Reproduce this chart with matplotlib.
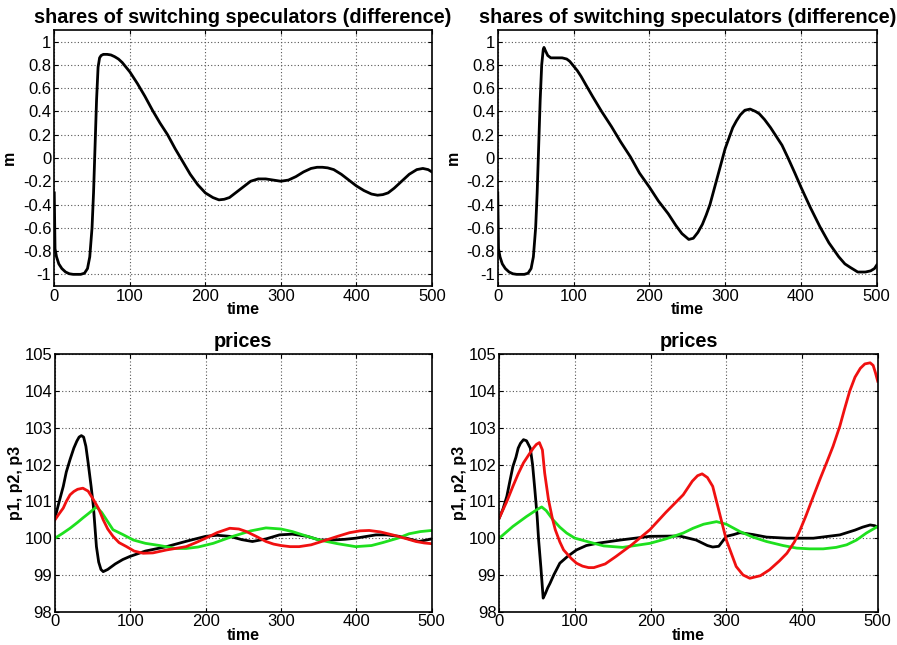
import matplotlib
matplotlib.use("Agg")
import matplotlib.pyplot as plt

plt.rcParams['font.family'] = ['Liberation Sans', 'DejaVu Sans']

# Data
## top left: m (difference of shares)
t_m1 = [0, 1, 3, 6, 10, 15, 20, 25, 30, 35, 40, 44, 47, 50, 52, 54, 56, 58, 60, 62, 65,
        70, 75, 80, 85, 90, 95, 100, 110, 120, 130, 140, 150, 160, 170, 180, 190, 200,
        210, 218, 225, 232, 240, 250, 260, 270, 280, 290, 300, 310, 320, 330, 340, 348,
        355, 362, 370, 380, 390, 400, 410, 420, 428, 435, 442, 450, 460, 470, 480, 488,
        495, 500]
m1 = [-0.30, -0.78, -0.85, -0.91, -0.95, -0.98, -0.995, -1.0, -1.0, -1.0, -0.99, -0.95,
      -0.85, -0.60, -0.30, 0.10, 0.50, 0.78, 0.86, 0.88, 0.89, 0.89, 0.885, 0.87, 0.85,
      0.82, 0.78, 0.74, 0.64, 0.53, 0.41, 0.30, 0.20, 0.08, -0.03, -0.14, -0.23, -0.30,
      -0.34, -0.36, -0.355, -0.34, -0.30, -0.25, -0.20, -0.18, -0.18, -0.19, -0.20,
      -0.19, -0.16, -0.12, -0.09, -0.08, -0.08, -0.085, -0.10, -0.14, -0.19, -0.24,
      -0.28, -0.31, -0.32, -0.315, -0.30, -0.26, -0.20, -0.14, -0.10, -0.09, -0.10,
      -0.12]

## top right
t_m2 = [0, 1, 3, 6, 10, 15, 20, 25, 30, 35, 40, 44, 47, 50, 52, 54, 56, 58, 60, 61, 63,
        66, 70, 75, 80, 85, 91, 95, 100, 105, 110, 117, 125, 137, 150, 162, 175, 187,
        200, 212, 225, 235, 243, 252, 258, 264, 270, 275, 280, 285, 290, 295, 300, 305,
        310, 315, 320, 326, 333, 340, 345, 352, 360, 367, 375, 383, 392, 400, 412, 425,
        437, 450, 458, 465, 475, 485, 492, 497, 500]
m2 = [-0.30, -0.78, -0.85, -0.91, -0.95, -0.98, -0.995, -1.0, -1.0, -1.0, -0.99, -0.95,
      -0.85, -0.60, -0.30, 0.10, 0.50, 0.80, 0.93, 0.95, 0.92, 0.88, 0.86, 0.86, 0.86,
      0.86, 0.85, 0.83, 0.79, 0.75, 0.70, 0.62, 0.53, 0.40, 0.27, 0.14, 0.01, -0.13,
      -0.25, -0.37, -0.48, -0.58, -0.65, -0.70, -0.69, -0.64, -0.57, -0.49, -0.40,
      -0.28, -0.16, -0.04, 0.08, 0.17, 0.26, 0.32, 0.37, 0.41, 0.42, 0.40, 0.38, 0.33,
      0.26, 0.19, 0.11, 0.0, -0.13, -0.25, -0.42, -0.59, -0.73, -0.85, -0.91, -0.94,
      -0.98, -0.98, -0.97, -0.95, -0.92]

## bottom left: prices p1 (black), p2 (red), p3 (green)
t_p1a = [0, 5, 11, 15, 20, 25, 29, 32, 35, 38, 41, 44, 48, 51, 55, 58, 61, 64, 70, 80,
         90, 99, 120, 148, 175, 200, 215, 232, 248, 262, 280, 298, 315, 335, 351, 368,
         385, 399, 426, 440, 457, 470, 483, 500]
p1a = [100.55, 100.95, 101.41, 101.8, 102.14, 102.45, 102.64, 102.75, 102.79, 102.75,
       102.5, 102.05, 101.4, 100.86, 99.77, 99.35, 99.15, 99.09, 99.15, 99.3, 99.42,
       99.5, 99.65, 99.77, 99.92, 100.05, 100.08, 100.05, 99.96, 99.91, 99.98, 100.09,
       100.11, 100.05, 99.95, 99.95, 99.97, 100.0, 100.09, 100.09, 100.05, 99.98,
       99.91, 99.98]
t_p2a = [0, 5, 11, 15, 20, 25, 30, 37, 44, 51, 58, 64, 70, 77, 85, 95, 105, 117, 130,
         148, 174, 187, 200, 215, 232, 244, 254, 267, 280, 290, 300, 312, 324, 340, 360,
         375, 391, 405, 417, 432, 448, 464, 479, 490, 500]
p2a = [100.5, 100.65, 100.82, 101.0, 101.18, 101.27, 101.33, 101.36, 101.28, 101.05,
       100.8, 100.5, 100.25, 100.05, 99.88, 99.77, 99.65, 99.59, 99.6, 99.68, 99.77,
       99.88, 100.0, 100.15, 100.27, 100.25, 100.18, 100.05, 99.91, 99.84, 99.8, 99.77,
       99.77, 99.82, 99.95, 100.05, 100.15, 100.2, 100.21, 100.17, 100.09, 100.0, 99.91,
       99.87, 99.85]
t_p3a = [0, 10, 20, 30, 37, 45, 55, 62, 70, 77, 90, 104, 120, 139, 160, 174, 190, 210,
         236, 260, 280, 300, 315, 335, 351, 375, 399, 420, 435, 455, 470, 485, 500]
p3a = [100.0, 100.13, 100.27, 100.43, 100.55, 100.68, 100.85, 100.7, 100.45, 100.23,
       100.1, 99.95, 99.86, 99.8, 99.72, 99.72, 99.76, 99.86, 100.05, 100.2, 100.28,
       100.25, 100.18, 100.05, 99.95, 99.85, 99.77, 99.8, 99.88, 100.0, 100.12,
       100.18, 100.21]

## bottom right
t_p1b = [0, 5, 10, 14, 18, 22, 25, 28, 32, 36, 41, 44, 47, 50, 52, 55, 58, 61, 64, 67,
         72, 80, 90, 102, 115, 129, 160, 199, 238, 260, 275, 282, 290, 300, 310, 318,
         335, 353, 380, 415, 450, 470, 480, 490, 496, 500]
p1b = [100.55, 100.8, 101.14, 101.55, 101.95, 102.2, 102.45, 102.58, 102.68, 102.65,
       102.45, 102.0, 101.32, 100.6, 99.95, 99.2, 98.37, 98.5, 98.65, 98.77, 99.0,
       99.32, 99.5, 99.68, 99.8, 99.86, 99.95, 100.05, 100.06, 99.95, 99.8, 99.76,
       99.78, 100.05, 100.1, 100.15, 100.1, 100.03, 100.0, 100.0, 100.09, 100.22,
       100.3, 100.36, 100.34, 100.3]
t_p2b = [0, 10, 18, 25, 32, 40, 45, 49, 53, 57, 60, 65, 70, 74, 80, 85, 95, 102, 110,
         118, 125, 140, 154, 175, 199, 220, 243, 255, 262, 268, 275, 282, 291, 300, 313,
         322, 331, 345, 357, 370, 380, 390, 397, 405, 415, 424, 433, 441, 450, 456, 463,
         470, 477, 483, 490, 494, 497, 500]
p2b = [100.55, 101.0, 101.41, 101.75, 102.05, 102.3, 102.45, 102.55, 102.6, 102.4,
       101.77, 101.05, 100.55, 100.23, 99.9, 99.68, 99.45, 99.32, 99.24, 99.2, 99.2,
       99.3, 99.5, 99.82, 100.23, 100.7, 101.18, 101.55, 101.7, 101.75, 101.65, 101.41,
       100.68, 99.95, 99.23, 99.0, 98.91, 98.98, 99.14, 99.38, 99.59, 99.9, 100.2,
       100.6, 101.14, 101.62, 102.08, 102.5, 103.05, 103.5, 104.0, 104.38, 104.62,
       104.74, 104.77, 104.7, 104.5, 104.27]
t_p3b = [0, 18, 36, 50, 56, 62, 71, 80, 89, 100, 116, 138, 163, 199, 220, 243, 256,
         270, 287, 300, 318, 335, 353, 375, 393, 410, 428, 445, 459, 472, 485, 500]
p3b = [100.0, 100.32, 100.59, 100.78, 100.85, 100.75, 100.5, 100.3, 100.14, 100.0,
       99.91, 99.79, 99.75, 99.86, 99.98, 100.14, 100.27, 100.38, 100.45, 100.38,
       100.18, 100.03, 99.91, 99.8, 99.73, 99.71, 99.71, 99.75, 99.82, 99.95, 100.14,
       100.32]

m_ticks = [-1, -0.8, -0.6, -0.4, -0.2, 0, 0.2, 0.4, 0.6, 0.8, 1]
m_ticklabels = ['-1', '-0.8', '-0.6', '-0.4', '-0.2', '0', '0.2', '0.4', '0.6', '0.8', '1']
p_ticks = [98, 99, 100, 101, 102, 103, 104, 105]
t_ticks = [0, 100, 200, 300, 400, 500]

GREEN = '#1ee01e'
RED = '#f01010'

fig = plt.figure(figsize=(8.97, 6.45), dpi=100)

ax1 = fig.add_axes([0.0605, 0.5566, 0.421, 0.397])
ax2 = fig.add_axes([0.5549, 0.5566, 0.4225, 0.397])
ax3 = fig.add_axes([0.0613, 0.0516, 0.420, 0.399])
ax4 = fig.add_axes([0.5566, 0.0516, 0.4219, 0.399])

ax1.plot(t_m1, m1, color='black', lw=2.0)
ax2.plot(t_m2, m2, color='black', lw=2.0)
ax3.plot(t_p1a, p1a, color='black', lw=2.0)
ax3.plot(t_p3a, p3a, color=GREEN, lw=2.0)
ax3.plot(t_p2a, p2a, color=RED, lw=2.0)
ax4.plot(t_p1b, p1b, color='black', lw=2.0)
ax4.plot(t_p3b, p3b, color=GREEN, lw=2.0)
ax4.plot(t_p2b, p2b, color=RED, lw=2.0)

for ax in [ax1, ax2]:
    ax.set_ylim(-1.1, 1.1)
    ax.set_yticks(m_ticks)
    ax.set_yticklabels(m_ticklabels)
    ax.set_title('shares of switching speculators (difference)', fontsize=14.3,
                 fontweight='bold', pad=5)
    ax.set_ylabel('m', fontsize=11.5, fontweight='bold', labelpad=4)

for ax in [ax3, ax4]:
    ax.set_ylim(98, 105)
    ax.set_yticks(p_ticks)
    ax.set_title('prices', fontsize=14.3, fontweight='bold', pad=5)
    ax.set_ylabel('p1, p2, p3', fontsize=11.5, fontweight='bold', labelpad=1)

for ax in [ax1, ax2, ax3, ax4]:
    ax.set_xlim(0, 500)
    ax.set_xticks(t_ticks)
    ax.set_xlabel('time', fontsize=11.5, fontweight='bold', labelpad=-1)
    ax.tick_params(direction='in', top=True, right=True, labelsize=12, length=3, pad=2)
    ax.grid(True, color='#555555', linestyle=(0, (1, 2)), linewidth=0.8)
    for s in ax.spines.values():
        s.set_linewidth(1.2)

fig.savefig("out.png", dpi=100)
